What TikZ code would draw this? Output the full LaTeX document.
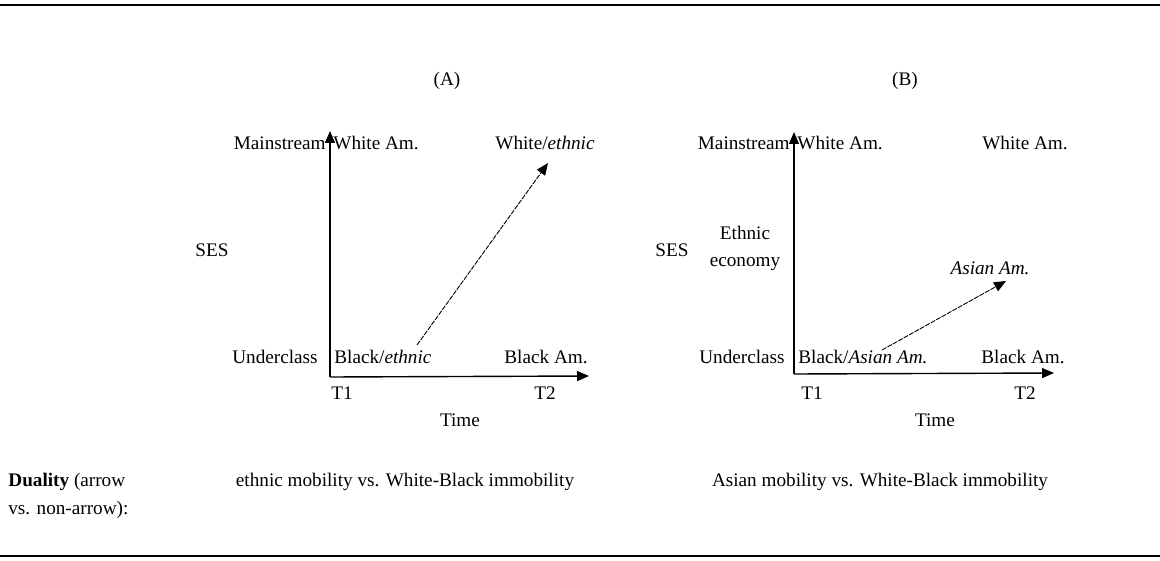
\documentclass[tikz,border=0pt]{standalone}
\usepackage{fontspec}
\setmainfont{Liberation Serif}
\usetikzlibrary{arrows.meta}
\begin{document}
\begin{tikzpicture}[x=0.5pt,y=-0.5pt,
  every node/.style={font=\fontsize{9.6}{11.5}\selectfont, inner sep=0pt},
  axis/.style={line width=0.7pt, -{Triangle[length=6pt,width=5pt]}},
  mob/.style={line width=0.45pt, dash pattern=on 2.5pt off 0.6pt, -{Triangle[length=6pt,width=5pt]}},
  rule/.style={line width=1.1pt}]
\useasboundingbox (0,0) rectangle (1160,561);
\coordinate (tl) at (0,5); \coordinate (tr) at (1160,5);
\coordinate (bl) at (0,556); \coordinate (br) at (1160,556);
\draw[rule] (tl) -- (tr);
\draw[rule] (bl) -- (br);
\node (labA) at (447,81) {(A)};
\node (labB) at (905,81) {(B)};
% Panel A
\coordinate (oA) at (330,377);
\coordinate (yA) at (330,131);
\coordinate (xA) at (589,376);
\draw[axis] (oA) -- (yA);
\draw[axis] (oA) -- (xA);
\node[anchor=east] (mainA) at (326,143) {Mainstream};
\node[anchor=west] (whA) at (333,143) {White Am.};
\node (weA) at (545,143) {White/\textit{ethnic}};
\node (sesA) at (212,250) {SES};
\node[anchor=east] (undA) at (318,357) {Underclass};
\node[anchor=west] (beA) at (334,357) {Black/\textit{ethnic}};
\node[anchor=east] (baA) at (588,357) {Black Am.};
\node (t1A) at (342,393) {T1};
\node (t2A) at (545,393) {T2};
\node (timeA) at (460,420) {Time};
\coordinate (sA) at (417,345);
\coordinate (eA) at (548,163);
\draw[mob] (sA) -- (eA);
% Panel B
\coordinate (oB) at (794,374);
\coordinate (yB) at (794,132);
\coordinate (xB) at (1054,373);
\draw[axis] (oB) -- (yB);
\draw[axis] (oB) -- (xB);
\node[anchor=east] (mainB) at (790,143) {Mainstream};
\node[anchor=west] (whB) at (797,143) {White Am.};
\node (wB) at (1025,143) {White Am.};
\node (sesB) at (672,250) {SES};
\node[align=center, font=\fontsize{9.6}{13.5}\selectfont] (eeB) at (745,248) {Ethnic\\economy};
\node (asB) at (990,268) {\textit{Asian Am.}};
\node[anchor=east] (undB) at (785,357) {Underclass};
\node[anchor=west] (baB1) at (798,357) {Black/\textit{Asian Am.}};
\node[anchor=east] (baB) at (1065,357) {Black Am.};
\node (t1B) at (812,393) {T1};
\node (t2B) at (1025,393) {T2};
\node (timeB) at (935,420) {Time};
\coordinate (sB) at (882,350);
\coordinate (eB) at (1006,281);
\draw[mob] (sB) -- (eB);
% bottom text
\node[anchor=west] (du1) at (8,482) {\textbf{Duality} (arrow};
\node[anchor=west] (du2) at (8,510) {vs. non-arrow):};
\node (capA) at (405,482) {ethnic mobility vs. White-Black immobility};
\node (capB) at (880,482) {Asian mobility vs. White-Black immobility};
\end{tikzpicture}
\end{document}
